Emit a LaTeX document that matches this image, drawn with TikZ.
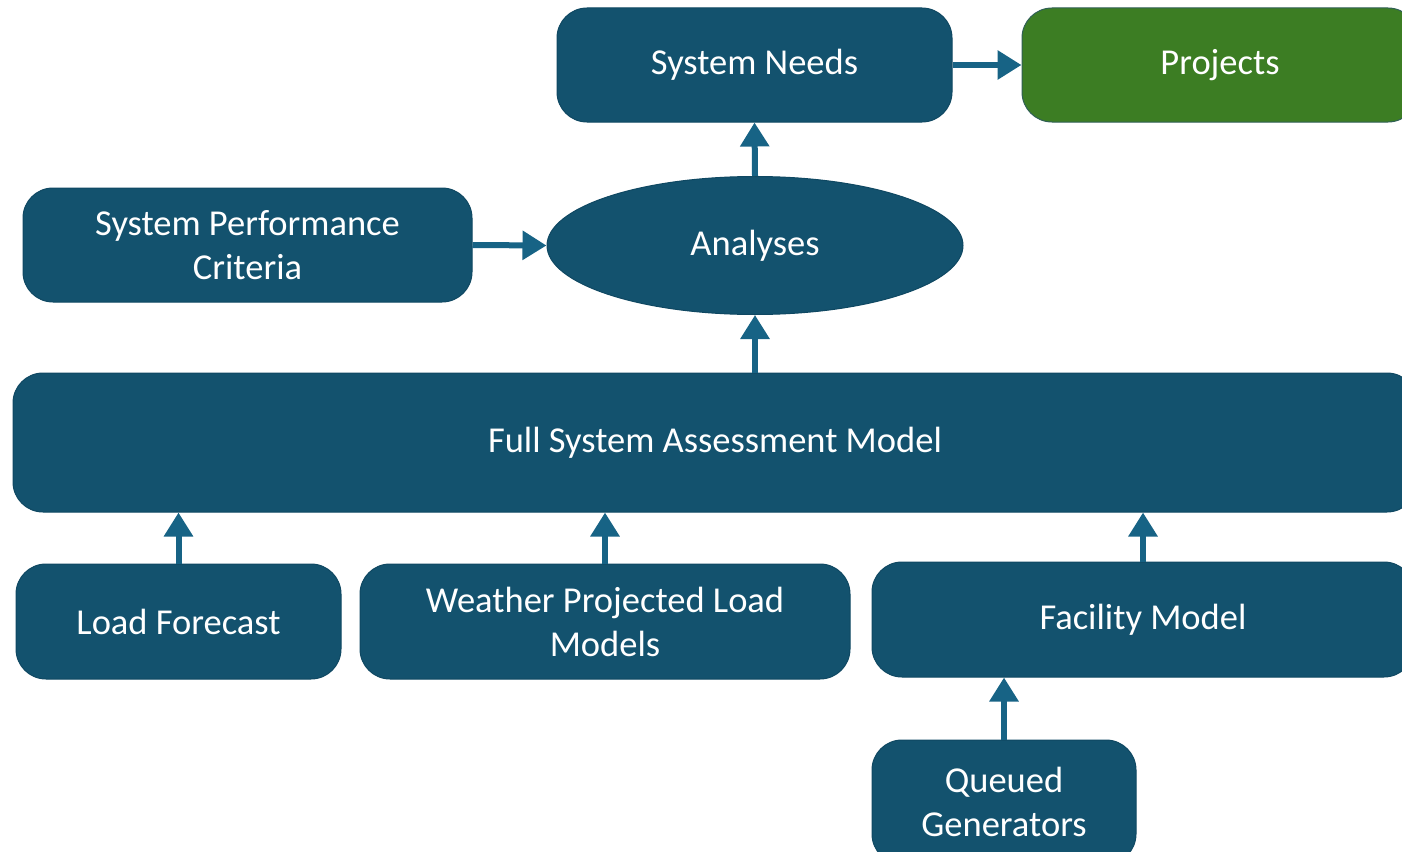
\documentclass[tikz,border=0pt]{standalone}
\usepackage{fontspec}
\setmainfont{Carlito}
\usetikzlibrary{arrows.meta,shapes.geometric}
\definecolor{boxblue}{HTML}{13526E}
\definecolor{boxedge}{HTML}{0F4862}
\definecolor{arrowblue}{HTML}{176385}
\definecolor{projgreen}{HTML}{3C7D23}
\definecolor{projedge}{HTML}{2F5F55}
\begin{document}
\begin{tikzpicture}[x=1pt,y=-1pt,
  box/.style={draw=boxedge,line width=1pt,fill=boxblue,rounded corners=30pt,text=white,align=center,
    font=\fontsize{36.5}{44}\selectfont,inner sep=0pt},
  conn/.style={draw=arrowblue,line width=6pt,-{Triangle[length=24pt,width=28pt]}}]
\useasboundingbox (0,0) rectangle (1402,851);
% nodes
\node[box,minimum width=395pt,minimum height=114pt] (needs) at (754.5,65) {System Needs};
\node[box,fill=projgreen,draw=projedge,minimum width=396pt,minimum height=114pt] (proj) at (1220,65) {Projects};
\node[box,ellipse,rounded corners=0pt,minimum width=416pt,minimum height=138pt] (ana) at (755,245.5) {Analyses};
\node[box,minimum width=449pt,minimum height=114pt] (spc) at (247.5,245) {System Performance\\Criteria};
\node[box,minimum width=1404pt,minimum height=139pt] (full) at (715,442.5) {Full System Assessment Model};
\node[box,minimum width=325pt,minimum height=115pt] (lf) at (178.5,621.5) {Load Forecast};
\node[box,minimum width=490pt,minimum height=115pt] (wp) at (605,621.5) {Weather Projected Load\\Models};
\node[box,minimum width=542pt,minimum height=115pt] (fac) at (1143,619.5) {Facility Model};
\node[box,minimum width=264pt,minimum height=124pt] (qg) at (1004,802) {Queued\\Generators};
% connectors
\draw[conn] (needs.east) -- (proj.west);
\draw[conn] (ana.north) -- (needs.south);
\draw[conn] (spc.east) -- (ana.west);
\draw[conn] (full.north -| ana.south) -- (ana.south);
\draw[conn] (lf.north) -- (lf.north |- full.south);
\draw[conn] (wp.north) -- (wp.north |- full.south);
\draw[conn] (fac.north) -- (fac.north |- full.south);
\draw[conn] (qg.north) -- (qg.north |- fac.south);
\end{tikzpicture}
\end{document}
